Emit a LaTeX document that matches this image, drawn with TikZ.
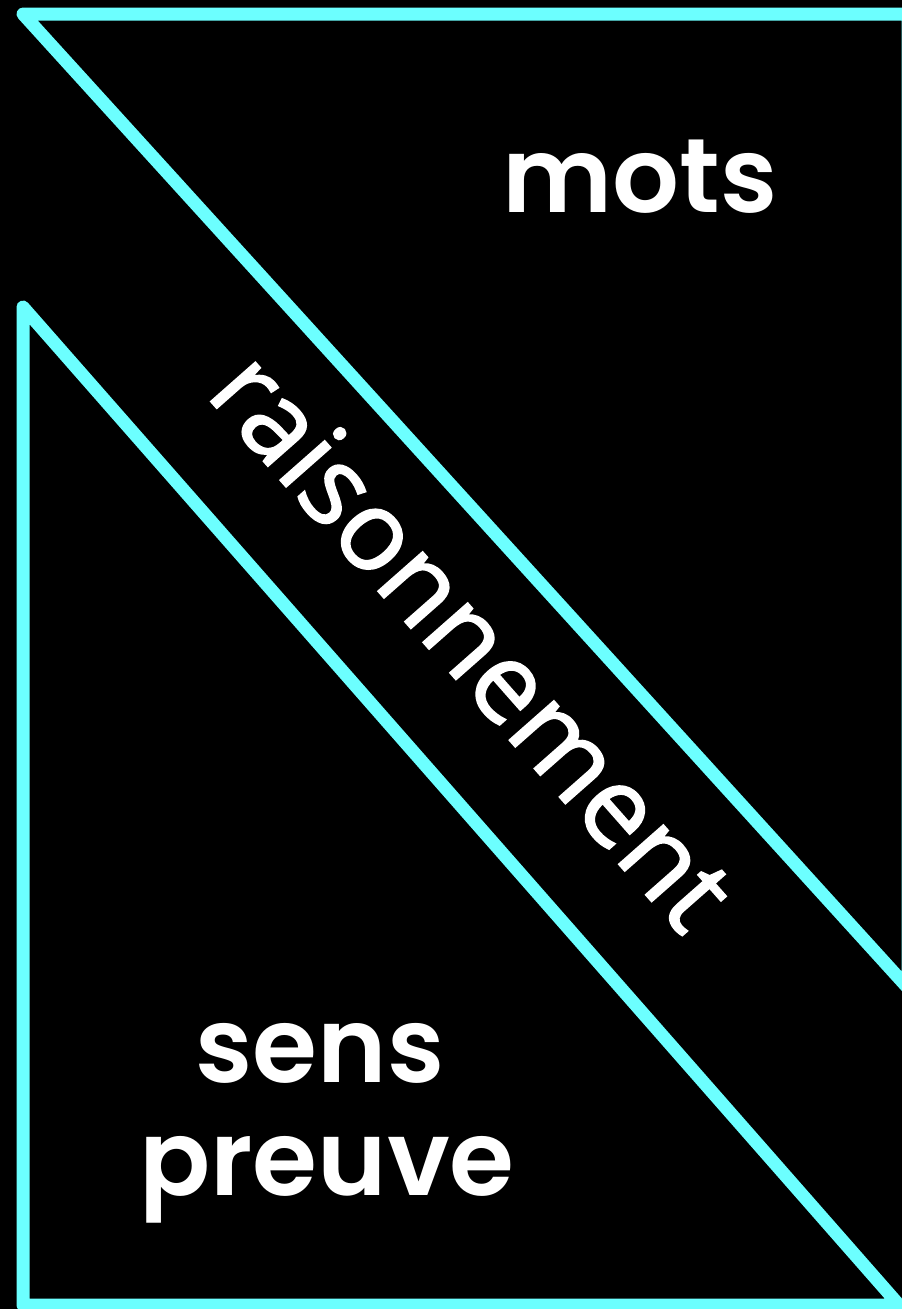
\documentclass[tikz,border=0pt]{standalone}
\usepackage{fontspec}
\setmainfont{Poppins}[BoldFont={Poppins SemiBold}]
\newfontfamily\slantfont{Open Sans}[FakeBold=1.5]
\definecolor{cyanline}{HTML}{6CFFFF}
\begin{document}
\begin{tikzpicture}[x=1pt,y=-1pt,
  edge/.style={draw=cyanline,line width=13pt,line join=round,line cap=round},
  bigword/.style={text=white,font=\fontsize{105}{120}\selectfont\bfseries,inner sep=0pt,anchor=base},
  slantword/.style={text=white,font=\slantfont\fontsize{111}{120}\selectfont,inner sep=0pt,anchor=base,rotate=-48.6}]
\fill[black] (0,0) rectangle (902,1309);
\useasboundingbox (0,0) rectangle (902,1309);
\begin{scope}
\clip (0,0) rectangle (902,1309);
\coordinate (ta) at (23,14);
\coordinate (tb) at (908,14);
\coordinate (tc) at (908,988);
\coordinate (ba) at (23,307);
\coordinate (bb) at (23,1305);
\coordinate (bc) at (899,1305);
\draw[edge] (ta) -- (tb) -- (tc) -- cycle;
\draw[edge] (ba) -- (bb) -- (bc) -- cycle;
\end{scope}
\node[bigword] (mots) at (640,212) {mots};
\node[bigword] (sens) at (320,1082) {sens};
\node[bigword] (preuve) at (327,1195) {preuve};
\node[slantword] (rais) at (444,666) {raisonnement};
\end{tikzpicture}
\end{document}
